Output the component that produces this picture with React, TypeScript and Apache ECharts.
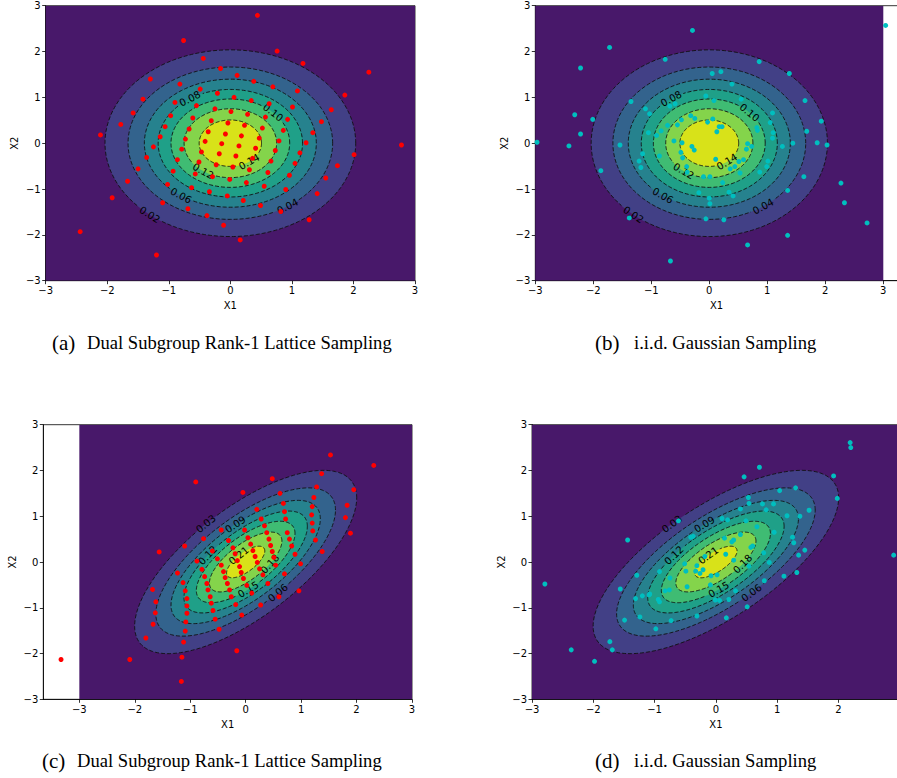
import React, { useEffect, useRef } from "react";
import * as echarts from "echarts";

// ---------- data ----------
const LEVELS_STD = [0, 0.02, 0.04, 0.06, 0.08, 0.1, 0.12, 0.14];
const LEVELS_CORR = [0, 0.03, 0.06, 0.09, 0.12, 0.15, 0.18, 0.21];
// parameter angle (deg) on each contour where its label sits
const LABEL_T_STD = [null, -130, -56, -125, 124, 44, -126, -53];
const LABEL_T_CORR = [null, 111, -69, 98, 128, -87, -48, 111];
const RHO_STD = 0;
const RHO_CORR = 0.7;
const BAND_COLORS = ["#48186a", "#424086", "#33638d", "#26828e", "#1fa088", "#3fbc73", "#84d44b", "#d8e219"];
const TICKS = [-3, -2, -1, 0, 1, 2, 3];
const TICKS_D = [-3, -2, -1, 0, 1, 2];

const CAPTION_LATTICE = "Dual Subgroup Rank-1 Lattice Sampling";
const CAPTION_IID = "i.i.d. Gaussian Sampling";

const latticeA = [
  [0.44, 2.79], [-0.76, 2.24], [0.76, 2.01], [-0.44, 1.85], [1.18, 1.74], [-0.16, 1.63], [2.25, 1.55],
  [0.11, 1.48], [-1.3, 1.4], [0.38, 1.35], [-0.82, 1.29], [0.69, 1.23], [-0.49, 1.18], [1.09, 1.14],
  [-0.21, 1.09], [1.86, 1.05], [0.06, 1.0], [-1.42, 0.96], [0.34, 0.93], [-0.9, 0.89], [0.63, 0.86],
  [-0.55, 0.82], [1.01, 0.79], [-0.25, 0.75], [1.64, 0.73], [0.01, 0.69], [-1.58, 0.66], [0.28, 0.63],
  [-0.97, 0.6], [0.57, 0.57], [-0.61, 0.55], [0.93, 0.52], [-0.31, 0.49], [1.48, 0.47], [-0.04, 0.44],
  [-1.78, 0.41], [0.23, 0.39], [-1.06, 0.36], [0.52, 0.33], [-0.67, 0.31], [0.86, 0.28], [-0.36, 0.25],
  [1.34, 0.23], [-0.08, 0.2], [-2.11, 0.18], [0.18, 0.16], [-1.14, 0.14], [0.47, 0.11], [-0.73, 0.09],
  [0.79, 0.05], [-0.41, 0.04], [1.23, 0.01], [-0.14, -0.01], [2.78, -0.04], [0.14, -0.06], [-1.25, -0.08],
  [0.41, -0.11], [-0.79, -0.13], [0.73, -0.16], [-0.47, -0.19], [1.13, -0.21], [-0.18, -0.23], [2.01, -0.25],
  [0.09, -0.28], [-1.36, -0.31], [0.36, -0.33], [-0.86, -0.36], [0.66, -0.39], [-0.51, -0.41], [1.05, -0.44],
  [-0.23, -0.47], [1.74, -0.49], [0.04, -0.52], [-1.5, -0.56], [0.31, -0.58], [-0.93, -0.61], [0.61, -0.64],
  [-0.57, -0.67], [0.96, -0.7], [-0.29, -0.73], [1.55, -0.76], [-0.01, -0.79], [-1.67, -0.83], [0.26, -0.86],
  [-1.02, -0.9], [0.55, -0.94], [-0.63, -0.97], [0.9, -1.01], [-0.34, -1.06], [1.41, -1.1], [-0.05, -1.15],
  [-1.92, -1.19], [0.21, -1.25], [-1.1, -1.3], [0.49, -1.36], [-0.69, -1.43], [0.82, -1.49], [-0.38, -1.58],
  [1.28, -1.67], [-0.11, -1.79], [-2.44, -1.93], [0.16, -2.11], [-1.2, -2.44],
];

const iidB = [
  [3.04, 2.57], [-0.29, 2.46], [-1.72, 2.09], [-2.22, 1.64], [-0.76, 1.83], [0.86, 1.78], [1.38, 1.52],
  [0.05, 1.52], [0.2, 1.56], [0.39, 1.29], [1.65, 0.93], [-0.06, 1.03], [0.08, 0.93], [0.55, 0.96],
  [-1.35, 0.91], [-0.68, 0.81], [-0.59, 0.86], [-1.1, 0.75], [-1.03, 0.64], [-2.32, 0.62], [-2.01, 0.52],
  [-0.32, 0.6], [-0.25, 0.54], [0.06, 0.53], [-0.03, 0.46], [1.93, 0.48], [1.09, 0.66], [0.17, 0.36],
  [0.22, 0.36], [0.13, 0.25], [-0.48, 0.51], [-0.55, 0.4], [-0.72, 0.39], [-0.83, 0.27], [-1.05, 0.23],
  [-0.91, 0.17], [-2.22, 0.2], [1.68, 0.26], [1.05, 0.45], [1.1, 0.23], [1.09, 0.11], [0.82, 0.34],
  [0.83, 0.28], [-2.97, 0.02], [-2.42, -0.06], [-1.54, -0.04], [-0.61, 0.05], [-0.47, 0.01], [-0.3, -0.07],
  [-0.26, -0.15], [0.66, -0.01], [0.64, -0.13], [0.73, -0.07], [1.26, -0.07], [1.44, 0.0], [1.86, 0.01],
  [2.03, -0.04], [-1.15, -0.23], [-0.86, -0.28], [-0.49, -0.2], [-0.46, -0.32], [-1.21, -0.39], [-1.18, -0.53],
  [0.11, -0.35], [0.59, -0.36], [0.51, -0.4], [0.44, -0.51], [0.36, -0.56], [0.53, -0.65], [1.01, -0.39],
  [0.99, -0.51], [0.87, -0.63], [-1.87, -0.6], [-0.39, -0.51], [-0.38, -0.63], [-0.1, -0.73], [0.01, -0.73],
  [0.23, -0.86], [1.63, -0.73], [2.27, -0.87], [-0.18, -1.08], [0.34, -1.07], [0.41, -1.15], [0.0, -1.2],
  [0.01, -1.32], [1.35, -1.03], [2.33, -1.3], [-1.38, -1.63], [-0.06, -1.65], [0.25, -1.67], [2.72, -1.74],
  [1.35, -2.01], [0.66, -2.22], [-0.67, -2.57],
];

const latticeC = [
  [-3.33, -2.13], [1.53, 2.34], [2.31, 2.11], [-0.9, 1.75], [0.48, 1.82], [-0.05, 1.52], [1.37, 1.93],
  [1.28, 1.64], [0.62, 1.5], [1.95, 1.58], [1.23, 1.41], [0.68, 1.28], [0.2, 1.15], [1.83, 1.24],
  [1.2, 1.21], [0.7, 1.1], [1.19, 1.03], [1.8, 0.97], [0.72, 0.94], [0.28, 0.94], [1.2, 0.85],
  [0.34, 0.79], [-0.02, 0.7], [-0.44, 0.7], [1.21, 0.68], [0.75, 0.64], [0.38, 0.64], [1.89, 0.63],
  [-0.76, 0.51], [-0.31, 0.47], [0.04, 0.53], [0.79, 0.5], [0.42, 0.5], [1.26, 0.48], [0.09, 0.39],
  [-1.1, 0.35], [0.83, 0.35], [0.45, 0.36], [-0.23, 0.31], [-0.6, 0.24], [0.13, 0.25], [0.48, 0.23],
  [1.38, 0.23], [-1.56, 0.22], [-0.19, 0.18], [0.89, 0.17], [0.17, 0.12], [0.51, 0.1], [-0.51, 0.07],
  [-0.88, 0.02], [-0.15, 0.03], [0.21, -0.01], [0.54, -0.07], [0.99, -0.04], [-0.44, -0.07], [-0.11, -0.1],
  [0.25, -0.15], [-0.79, -0.16], [-0.08, -0.23], [-1.23, -0.24], [-0.4, -0.21], [0.7, -0.26], [0.31, -0.28],
  [-0.74, -0.32], [-0.04, -0.36], [-0.37, -0.34], [-0.7, -0.47], [0.02, -0.51], [0.4, -0.47], [-1.13, -0.45],
  [-0.33, -0.47], [-0.68, -0.61], [-0.29, -0.61], [0.11, -0.68], [0.96, -0.63], [-1.68, -0.6], [-1.09, -0.63],
  [-0.64, -0.76], [-0.26, -0.76], [0.6, -0.76], [-1.06, -0.8], [-1.62, -0.87], [-1.06, -0.96], [0.27, -0.94],
  [-0.62, -0.9], [-0.18, -0.93], [-0.59, -1.06], [-1.63, -1.11], [-1.06, -1.12], [-0.07, -1.16], [-0.55, -1.25],
  [-1.08, -1.31], [-1.67, -1.36], [-0.48, -1.47], [-1.09, -1.51], [-1.8, -1.66], [-1.12, -1.75], [-2.09, -2.13],
  [-0.16, -1.94], [-1.15, -2.08], [-1.16, -2.61],
];

const iidD = [
  [2.19, 2.61], [2.2, 2.5], [0.71, 2.07], [0.46, 1.86], [1.92, 1.88], [1.98, 1.39], [1.04, 1.56],
  [1.3, 1.62], [0.53, 1.41], [0.54, 1.28], [0.76, 1.27], [0.94, 1.27], [0.82, 1.14], [0.4, 1.16],
  [1.16, 1.01], [1.52, 1.13], [1.37, 1.0], [-0.61, 0.9], [0.1, 0.95], [0.19, 0.92], [0.49, 0.9],
  [-1.44, 0.48], [-0.41, 0.54], [-0.37, 0.56], [0.14, 0.52], [0.29, 0.48], [0.26, 0.44], [0.4, 0.6],
  [0.67, 0.77], [0.95, 0.65], [1.25, 0.54], [1.27, 0.42], [1.45, 0.26], [1.35, 0.15], [0.57, 0.32],
  [0.6, 0.35], [0.78, 0.2], [2.9, 0.15], [0.16, 0.17], [-0.18, 0.12], [-0.31, -0.08], [-0.33, -0.2],
  [-0.26, -0.25], [-0.21, -0.17], [-0.08, -0.3], [0.02, -0.28], [-0.49, -0.2], [-0.51, -0.04], [0.29, 0.04],
  [0.54, -0.09], [0.87, -0.01], [1.11, -0.31], [1.32, -0.23], [0.79, -0.41], [-2.79, -0.48], [-1.56, -0.59],
  [-1.29, -0.29], [-0.92, -0.21], [-0.75, -0.35], [-0.76, -0.61], [-0.83, -0.63], [-0.94, -0.82], [-0.92, -0.87],
  [-1.09, -0.72], [-1.2, -0.74], [-1.31, -0.8], [-1.08, -0.7], [-0.47, -0.54], [-0.09, -0.5], [-0.01, -0.83],
  [0.06, -0.84], [0.21, -0.82], [0.32, -0.63], [0.51, -0.98], [0.17, -1.22], [-0.31, -1.18], [-0.73, -1.28],
  [-1.49, -1.27], [-1.24, -1.2], [-0.98, -1.46], [-1.73, -1.74], [-1.69, -1.92], [-2.36, -1.92], [-1.98, -2.17],
];

// ---------- helpers ----------
const TICK_FONT = "DejaVu Sans";
const fmtTick = (v: number) => (v < 0 ? "\u2212" + Math.abs(v) : String(v));

function contourRenderer(levels: number[], rho: number, labelT: (number | null)[]) {
  const s = Math.sqrt(1 - rho * rho);
  const peak = 1 / (2 * Math.PI * s);
  return (params: any, api: any) => {
    const i = params.dataIndex;
    if (i === 0) {
      const p0 = api.coord([-3, 3]);
      const p1 = api.coord([3, -3]);
      return {
        type: "rect",
        shape: { x: p0[0], y: p0[1], width: p1[0] - p0[0], height: p1[1] - p0[1] },
        style: { fill: BAND_COLORS[0] },
      };
    }
    const L = levels[i];
    const d = Math.sqrt(2 * Math.log(peak / L));
    const pt = (t: number) => [d * Math.cos(t), d * (rho * Math.cos(t) + s * Math.sin(t))];
    const pts: number[][] = [];
    const N = 240;
    for (let k = 0; k < N; k++) pts.push(api.coord(pt((2 * Math.PI * k) / N)));
    const children: any[] = [
      { type: "polygon", shape: { points: pts }, style: { fill: BAND_COLORS[i], stroke: "none" } },
    ];
    const tDeg = labelT[i];
    let center: number[] | null = null;
    let ang = 0;
    if (tDeg !== null && tDeg !== undefined) {
      const t = (tDeg * Math.PI) / 180;
      center = api.coord(pt(t));
      const a = api.coord(pt(t - 0.02));
      const b = api.coord(pt(t + 0.02));
      ang = Math.atan2(-(b[1] - a[1]), b[0] - a[0]);
      if (ang > Math.PI / 2) ang -= Math.PI;
      if (ang < -Math.PI / 2) ang += Math.PI;
    }
    // dashed outline, broken where the inline label sits
    const gap = 13;
    const segs: number[][][] = [];
    let cur: number[][] = [];
    for (let k = 0; k <= N; k++) {
      const p = pts[k % N];
      const inGap = center ? Math.hypot(p[0] - center[0], p[1] - center[1]) < gap : false;
      if (inGap) {
        if (cur.length > 1) segs.push(cur);
        cur = [];
      } else cur.push(p);
    }
    if (cur.length > 1) segs.push(cur);
    segs.forEach((sg) =>
      children.push({
        type: "polyline",
        shape: { points: sg },
        style: { fill: "none", stroke: "#111", lineWidth: 0.9, lineDash: [4, 2] },
      })
    );
    if (center) {
      children.push({
        type: "text",
        x: center[0],
        y: center[1],
        rotation: ang,
        z2: 10,
        style: {
          text: L.toFixed(2),
          fill: "#000",
          fontSize: 10,
          fontFamily: TICK_FONT,
          align: "center",
          verticalAlign: "middle",
          textAlign: "center",
          textVerticalAlign: "middle",
        },
      });
    }
    return { type: "group", children };
  };
}

const grids = [
  { left: 45.7, top: 5.7, width: 369.3, height: 275 },
  { left: 535.3, top: 5.7, width: 362.5, height: 275 },
  { left: 43.3, top: 424.7, width: 368.7, height: 274.6 },
  { left: 532, top: 424.7, width: 367.8, height: 274.6 },
];
const xRanges = [
  [-3, 3],
  [-3, 3.25],
  [-3.65, 3],
  [-3, 3],
];

export default function App() {
  const ref = useRef<HTMLDivElement>(null);
  useEffect(() => {
    if (!ref.current) return;
    const chart = echarts.init(ref.current, null, { renderer: "svg" });
    const axisText = { fontFamily: TICK_FONT, fontSize: 10, color: "#000" };
    const xAxis = grids.map((_, gi) => {
      const ticks = gi === 3 ? TICKS_D : TICKS;
      return {
        type: "value",
        gridIndex: gi,
        min: xRanges[gi][0],
        max: xRanges[gi][1],
        name: "X1",
        nameLocation: "middle",
        nameGap: 20,
        nameTextStyle: { ...axisText },
        axisLine: { show: true, onZero: false, lineStyle: { color: "#000", width: 0.8 } },
        axisTick: { show: true, length: 3.5, lineStyle: { color: "#000", width: 0.8 }, customValues: ticks },
        axisLabel: { ...axisText, margin: 5, formatter: fmtTick, customValues: ticks },
        splitLine: { show: false },
      };
    });
    const yAxis = grids.map((_, gi) => ({
      type: "value",
      gridIndex: gi,
      min: -3,
      max: 3,
      interval: 1,
      name: "X2",
      nameLocation: "middle",
      nameGap: 26,
      nameTextStyle: { ...axisText },
      axisLine: { show: true, onZero: false, lineStyle: { color: "#000", width: 0.8 } },
      axisTick: { show: true, length: 3.5, lineStyle: { color: "#000", width: 0.8 }, customValues: TICKS },
      axisLabel: { ...axisText, margin: 5, formatter: fmtTick, customValues: TICKS },
      splitLine: { show: false },
    }));
    const panels = [
      { levels: LEVELS_STD, rho: RHO_STD, labelT: LABEL_T_STD, pts: latticeA, color: "#ff0000" },
      { levels: LEVELS_STD, rho: RHO_STD, labelT: LABEL_T_STD, pts: iidB, color: "#00bfbf" },
      { levels: LEVELS_CORR, rho: RHO_CORR, labelT: LABEL_T_CORR, pts: latticeC, color: "#ff0000" },
      { levels: LEVELS_CORR, rho: RHO_CORR, labelT: LABEL_T_CORR, pts: iidD, color: "#00bfbf" },
    ];
    const series: any[] = [];
    panels.forEach((p, gi) => {
      series.push({
        type: "custom",
        xAxisIndex: gi,
        yAxisIndex: gi,
        coordinateSystem: "cartesian2d",
        clip: true,
        z: 2,
        silent: true,
        data: p.levels.map((L, i) => [0, 0, L, i]),
        encode: { x: 0, y: 1 },
        renderItem: contourRenderer(p.levels, p.rho, p.labelT),
      });
      series.push({
        type: "scatter",
        xAxisIndex: gi,
        yAxisIndex: gi,
        z: 5,
        symbol: "circle",
        symbolSize: 5,
        itemStyle: { color: p.color, opacity: 1 },
        data: p.pts,
      });
    });
    const capFont = '"Liberation Serif", "Times New Roman", serif';
    const captions = [
      { tag: "(a)", text: CAPTION_LATTICE, x0: 52, x1: 87, y: 344 },
      { tag: "(b)", text: CAPTION_IID, x0: 595, x1: 634, y: 344 },
      { tag: "(c)", text: CAPTION_LATTICE, x0: 42, x1: 77, y: 762 },
      { tag: "(d)", text: CAPTION_IID, x0: 595, x1: 634, y: 762 },
    ];
    const graphic: any[] = [];
    captions.forEach((c) => {
      graphic.push({
        type: "text",
        left: c.x0,
        top: c.y - 12,
        style: { text: c.tag, font: `21px ${capFont}`, fill: "#000" },
      });
      graphic.push({
        type: "text",
        left: c.x1,
        top: c.y - 11,
        style: { text: c.text, font: `18.6px ${capFont}`, fill: "#000" },
      });
    });
    chart.setOption({
      animation: false,
      backgroundColor: "#fff",
      grid: grids.map((g) => ({
        ...g,
        show: true,
        borderColor: "#000",
        borderWidth: 0.8,
        backgroundColor: "transparent",
        containLabel: false,
        outerBoundsMode: "none",
      })),
      xAxis,
      yAxis,
      series,
      graphic,
    });
    return () => chart.dispose();
  }, []);
  return <div ref={ref} style={{ position: "absolute", left: 0, top: 0, width: 897, height: 778 }} />;
}
